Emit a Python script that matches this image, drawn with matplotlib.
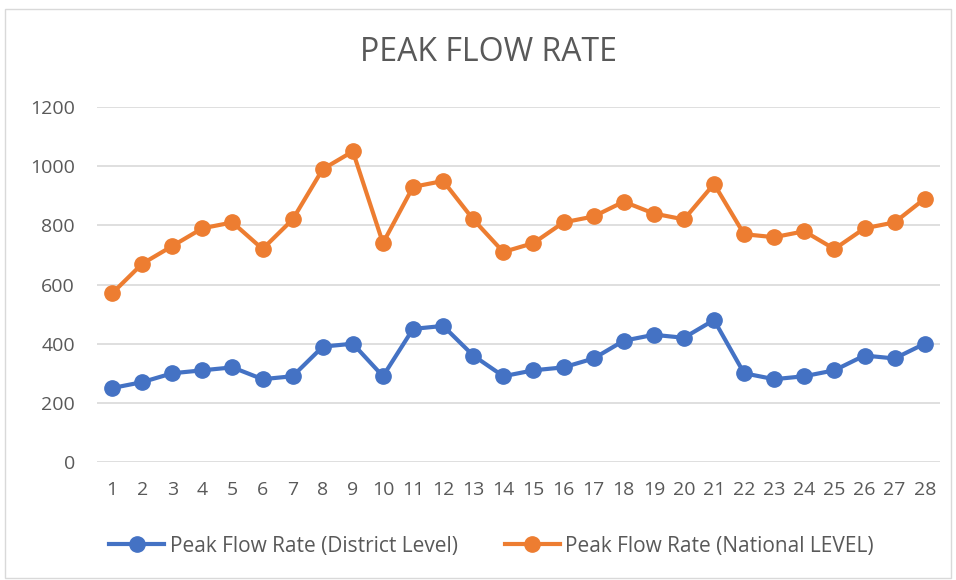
import matplotlib.pyplot as plt
from matplotlib.patches import Rectangle

days = list(range(1, 29))
district = [250, 270, 300, 310, 320, 280, 290, 390, 400, 290, 450, 460, 360, 290,
            310, 320, 350, 410, 430, 420, 480, 300, 280, 290, 310, 360, 350, 400]
national = [570, 670, 730, 790, 810, 720, 820, 990, 1050, 740, 930, 950, 820, 710,
            740, 810, 830, 880, 840, 820, 940, 770, 760, 780, 720, 790, 810, 890]
y_ticks = [0, 200, 400, 600, 800, 1000, 1200]

plt.rcParams['font.family'] = ['Open Sans', 'DejaVu Sans']
txt = '#595959'

fig = plt.figure(figsize=(9.56, 5.8), dpi=100)
fig.patches.append(Rectangle((0.005, 0.003), 0.99, 0.982, transform=fig.transFigure,
                             fill=False, edgecolor='#d9d9d9', linewidth=1))
ax = fig.add_axes([0.1015, 0.2034, 0.8815, 0.6121])

ax.plot(days, district, color='#4472C4', linewidth=3, marker='o', markersize=11,
        label='Peak Flow Rate (District Level)', zorder=3)
ax.plot(days, national, color='#ED7D31', linewidth=3, marker='o', markersize=11,
        label='Peak Flow Rate (National LEVEL)', zorder=3)

ax.set_xlim(0.5, 28.5)
ax.set_ylim(0, 1200)
ax.set_yticks(y_ticks)
ax.set_xticks(days)
ax.grid(axis='y', color='#d9d9d9', linewidth=1.2)
ax.set_axisbelow(True)
for s in ax.spines.values():
    s.set_visible(False)
ax.tick_params(length=0, labelsize=14, labelcolor=txt)
ax.tick_params(axis='x', pad=14)
ax.tick_params(axis='y', pad=16)

fig.text(0.5115, 0.91, 'PEAK FLOW RATE', ha='center', va='center', fontsize=23, color=txt)

leg = ax.legend(loc='center', bbox_to_anchor=(0.468, -0.2366), ncol=2, frameon=False,
                fontsize=15, handlelength=2.65, handletextpad=0.25, columnspacing=2.25)
for t in leg.get_texts():
    t.set_color(txt)

fig.savefig('out.png', dpi=100)
